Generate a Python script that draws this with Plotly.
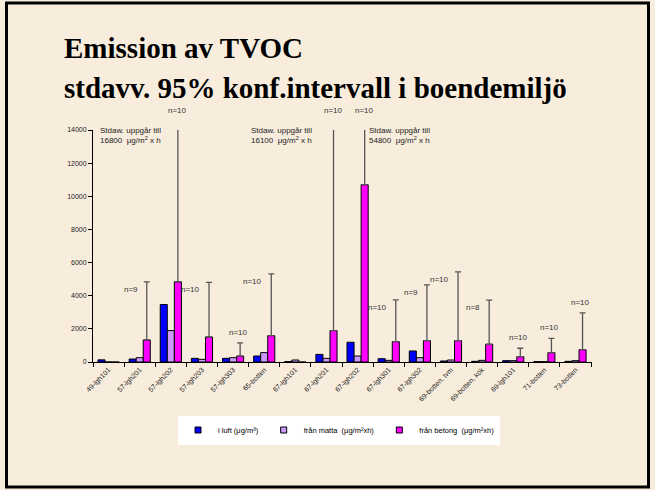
import plotly.graph_objects as go

categories = ["49-lgh101", "57-lgh201", "57-lgh202", "57-lgh203", "57-lgh303", "65-botten",
              "67-lgh101", "67-lgh201", "67-lgh202", "67-lgh301", "67-lgh302",
              "69-botten, tvm", "69-botten, kök", "69-lgh101", "71-botten", "73-botten"]
i_luft = [130, 180, 3470, 220, 220, 360, 30, 460, 1190, 200, 665, 60, 40, 80, 20, 40]
fran_matta = [0, 260, 1895, 160, 260, 565, 120, 220, 360, 100, 260, 120, 100, 80, 20, 80]
fran_betong = [0, 1330, 4840, 1510, 360, 1590, 0, 1895, 10700, 1230, 1290, 1290, 1070, 320, 565, 745]
stdav_betong = [None, 3510, 16800, 3290, 790, 3730, None, 16100, 54800, 2520, 3370, 4150, 2660, 510, 865, 2215]
n_counts = [None, 9, 10, 10, 10, 10, None, 10, 10, 10, 9, 10, 8, 10, 10, 10]
series_names = ["i luft (μg/m³)", "från matta  (µg/m²xh)", "från betong  (μg/m²xh)"]
y_ticks = [0, 2000, 4000, 6000, 8000, 10000, 12000, 14000]
y_max = 14000

BG = "#F8EDDC"
SANS = "Liberation Sans, Arial, sans-serif"
SERIF = "Liberation Serif, Times New Roman, serif"

W, H = 655, 490
ML, MR, MT, MB = 93, 63, 130, 128
PW, PH = W - ML - MR, H - MT - MB


def px_x(p):
    return (p - ML) / PW


def px_y(p):
    return (H - MB - p) / PH


fig = go.Figure()
colors = ["#0000FF", "#CC99FF", "#FF00FF"]
for name, vals, col in zip(series_names, [i_luft, fran_matta, fran_betong], colors):
    kw = {}
    if vals is fran_betong:
        kw["error_y"] = dict(type="data", symmetric=False, array=stdav_betong,
                             arrayminus=[0 if s is not None else None for s in stdav_betong],
                             color="#555555", thickness=1.3, width=3)
    fig.add_trace(go.Bar(x=categories, y=vals, name=name, showlegend=False,
                         marker=dict(color=col, line=dict(color="#000000", width=1)),
                         **kw))
# legend entries with small square keys
for name, col in zip(series_names, colors):
    fig.add_trace(go.Scatter(x=[None], y=[None], mode="markers", name=name,
                             marker=dict(symbol="square", size=6, color=col,
                                         line=dict(color="#000000", width=1))))

annotations = []
# n= labels
for i, (cat, n) in enumerate(zip(categories, n_counts)):
    if n is None:
        continue
    top = fran_betong[i] + stdav_betong[i]
    txt = f"n={n}"
    if top > y_max:
        annotations.append(dict(x=cat, y=y_max, text=txt, showarrow=False, xshift=7,
                                yanchor="bottom", yshift=13, xanchor="center",
                                font=dict(family=SANS, size=8, color="#333333")))
    elif top < 3000:
        annotations.append(dict(x=cat, y=top, text=txt, showarrow=False, xshift=5,
                                yanchor="bottom", yshift=4, xanchor="center",
                                font=dict(family=SANS, size=8, color="#333333")))
    else:
        annotations.append(dict(x=cat, y=top, text=txt, showarrow=False, xshift=0,
                                yanchor="top", yshift=-1, xanchor="right",
                                font=dict(family=SANS, size=8, color="#333333")))

# Stdaw notes
for px, val in [(98, 16800), (249, 16100), (367, 54800)]:
    annotations.append(dict(xref="paper", yref="paper", x=px_x(px), y=px_y(124),
                            xanchor="left", yanchor="top", showarrow=False, align="left",
                            text=f"Stdaw. uppgår till<br>{val}  μg/m<sup>2</sup> x h",
                            font=dict(family=SANS, size=8, color="#222222")))

# Title
annotations.append(dict(xref="paper", yref="paper", x=px_x(62), y=px_y(48), xanchor="left",
                        yanchor="middle", showarrow=False, text="<b>Emission av TVOC</b>",
                        font=dict(family=SERIF, size=29, color="#000000")))
annotations.append(dict(xref="paper", yref="paper", x=px_x(62), y=px_y(88), xanchor="left",
                        yanchor="middle", showarrow=False,
                        text="<b>stdavv. 95% konf.intervall i boendemiljö</b>",
                        font=dict(family=SERIF, size=29, color="#000000")))

fig.update_layout(
    template="none",
    width=W, height=H,
    margin=dict(l=ML, r=MR, t=MT, b=MB, autoexpand=False),
    paper_bgcolor=BG, plot_bgcolor=BG,
    barmode="group", bargap=0.32, bargroupgap=0,
    font=dict(family=SANS, size=7, color="#000000"),
    showlegend=True,
    legend=dict(orientation="h", x=0.493, xanchor="center", y=px_y(430), yanchor="middle",
                bgcolor="#FFFFFF", font=dict(family=SANS, size=7.5, color="#000000"),
                itemwidth=30, traceorder="normal"),
    xaxis=dict(type="category", tickangle=-45, showline=True, linecolor="#000000", linewidth=1,
               ticks="outside", tickson="boundaries", ticklen=4, tickcolor="#000000",
               showgrid=False, zeroline=False, automargin=False,
               tickfont=dict(family=SANS, size=7, color="#222222")),
    yaxis=dict(range=[0, y_max], tickvals=y_ticks, tickformat="d", showline=True,
               linecolor="#000000", linewidth=1, ticks="outside", ticklen=4, tickcolor="#000000",
               showgrid=False, zeroline=False, automargin=False,
               tickfont=dict(family=SANS, size=7, color="#222222")),
    annotations=annotations,
    shapes=[dict(type="rect", xref="paper", yref="paper",
                 x0=px_x(6.5), x1=px_x(648.5), y0=px_y(487), y1=px_y(3),
                 line=dict(color="#000000", width=3), fillcolor="rgba(0,0,0,0)", layer="above")],
)

fig.write_html("out.html", config={"displayModeBar": False},
               post_script="document.body.style.margin='0';document.body.style.background='%s';" % BG)
